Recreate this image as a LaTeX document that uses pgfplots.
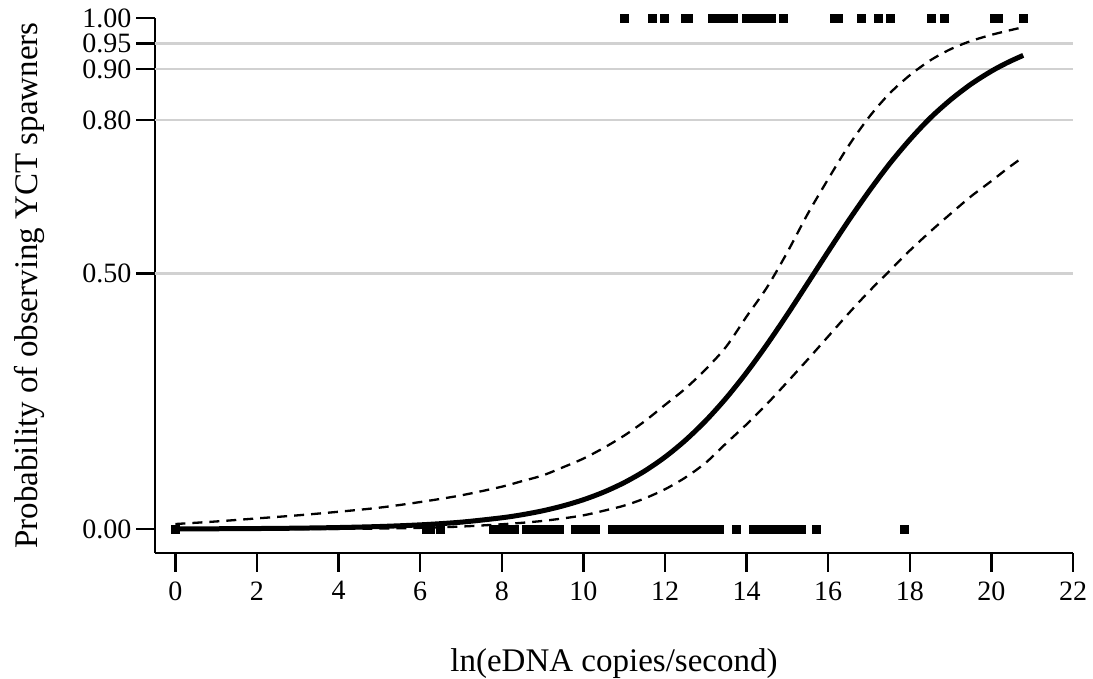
\documentclass[border=0pt]{standalone}
\usepackage{fontspec}
\setmainfont{Liberation Serif}
\usepackage{pgfplots}
\pgfplotsset{compat=1.18}
\begin{document}
\begin{tikzpicture}
\path[use as bounding box] (-155pt,-126pt) rectangle (938pt,553pt);
\begin{axis}[
  at={(0,0)}, anchor=south west,
  width=918pt, height=535pt, scale only axis,
  xmin=-0.5, xmax=22, ymin=-0.0467, ymax=1,
  axis x line*=bottom, axis y line*=left,
  axis line style={-, line width=2.5pt, black},
  xtick={0,2,4,6,8,10,12,14,16,18,20,22},
  xticklabels={0,2,4,6,8,10,12,14,16,18,20,22},
  ytick={0,0.5,0.8,0.9,0.95,1},
  yticklabels={0.00,0.50,0.80,0.90,0.95,1.00},
  tick align=outside, major tick length=19pt,
  tick style={line width=2.5pt, black},
  tick label style={font=\fontsize{28}{28}\selectfont},
  xticklabel style={yshift=-6pt},
  yticklabel style={xshift=-1pt},
  label style={font=\fontsize{33}{33}\selectfont},
  xlabel={ln(eDNA copies/second)},
  ylabel={Probability of observing YCT spawners},
  xlabel style={at={(axis description cs:0.5,-0.2206)}, anchor=base},
  ylabel style={at={(axis description cs:-0.1373,0.5)}, anchor=center},
  clip=false,
]
% grid lines
\addplot[line width=2.5pt, color=black!18, forget plot] coordinates {(-0.5,0.5) (22,0.5)};
\addplot[line width=2.5pt, color=black!18, forget plot] coordinates {(-0.5,0.8) (22,0.8)};
\addplot[line width=2.5pt, color=black!18, forget plot] coordinates {(-0.5,0.9) (22,0.9)};
\addplot[line width=2.5pt, color=black!18, forget plot] coordinates {(-0.5,0.95) (22,0.95)};
% rug at 1
\addplot[only marks, mark=square*, mark size=4pt, black] coordinates {
(11.0,1)(11.68,1)(11.97,1)(12.5,1)(12.58,1)(13.16,1)(13.3,1)(13.42,1)(13.55,1)(13.68,1)
(14.0,1)(14.15,1)(14.3,1)(14.45,1)(14.6,1)(14.89,1)(16.15,1)(16.25,1)(16.81,1)(17.22,1)
(17.52,1)(18.53,1)(18.85,1)(20.07,1)(20.17,1)(20.77,1)};
% rug at 0
\addplot[only marks, mark=square*, mark size=4pt, black] coordinates {
(0,0)(6.15,0)(6.25,0)(6.5,0)(7.8,0)(7.95,0)(8.1,0)(8.3,0)(8.6,0)(8.75,0)(8.9,0)(9.05,0)
(9.2,0)(9.4,0)(9.8,0)(9.95,0)(10.1,0)(10.3,0)(10.7,0)(10.85,0)(11.0,0)(11.15,0)(11.3,0)
(11.45,0)(11.6,0)(11.75,0)(11.9,0)(12.05,0)(12.2,0)(12.35,0)(12.5,0)(12.65,0)(12.8,0)
(12.95,0)(13.1,0)(13.25,0)(13.33,0)(13.75,0)(14.15,0)(14.3,0)(14.45,0)(14.6,0)(14.75,0)
(14.9,0)(15.05,0)(15.2,0)(15.35,0)(15.71,0)(17.87,0)};
% fitted curve
\addplot[smooth, line width=5pt, black] coordinates {
(0,0.00043)(1,0.00071)(2,0.00116)(3,0.0019)(4,0.00312)(5,0.0051)(6,0.00836)(7,0.0136)
(8,0.0222)(8.5,0.0282)(9,0.0358)(9.5,0.0455)(10,0.0575)(10.5,0.0725)(11,0.0910)(11.5,0.1136)
(12,0.1410)(12.5,0.1738)(13,0.2122)
(13.5,0.2565)(14,0.3064)(14.5,0.3614)(15,0.4202)(15.5,0.4815)(16,0.5432)(16.5,0.6037)
(17,0.6610)(17.5,0.7143)(18,0.7619)(18.5,0.8043)(19,0.8400)(19.5,0.8706)(20,0.8960)
(20.4,0.9130)(20.78,0.9269)};
% upper bound
\addplot[smooth, line width=2.3pt, black, dash pattern=on 10pt off 7pt] coordinates {
(0,0.010)(1,0.015)(2,0.021)(3,0.027)(4,0.034)(5,0.042)(6,0.053)(7,0.066)(8,0.083)
(8.5,0.094)(9,0.105)(9.5,0.121)(10,0.138)(10.5,0.159)(11,0.183)(11.5,0.211)(12,0.243)
(12.5,0.275)(13,0.313)(13.5,0.357)
(14,0.416)(14.5,0.473)(15,0.542)(15.5,0.617)(16,0.685)(16.5,0.750)(17,0.806)(17.5,0.852)
(18,0.888)(18.5,0.917)(19,0.939)(19.5,0.955)(20,0.967)(20.4,0.975)(20.78,0.982)};
% lower bound
\addplot[smooth, line width=2.3pt, black, dash pattern=on 10pt off 7pt] coordinates {
(0,0.00002)(2,0.0001)(4,0.0005)(5,0.0012)(6,0.0025)(7,0.005)(8,0.0095)(8.5,0.0124)(9,0.016)
(9.5,0.021)(10,0.027)(10.5,0.036)(11,0.046)(11.5,0.06)(12,0.078)(12.5,0.101)(13,0.13)
(13.5,0.168)(14,0.205)
(14.5,0.245)(15,0.288)(15.5,0.332)(16,0.377)(16.5,0.422)(17,0.465)(17.5,0.505)
(18,0.545)(18.5,0.582)(19,0.617)(19.5,0.651)(20,0.681)(20.4,0.706)(20.78,0.728)};
\end{axis}
\end{tikzpicture}
\end{document}
